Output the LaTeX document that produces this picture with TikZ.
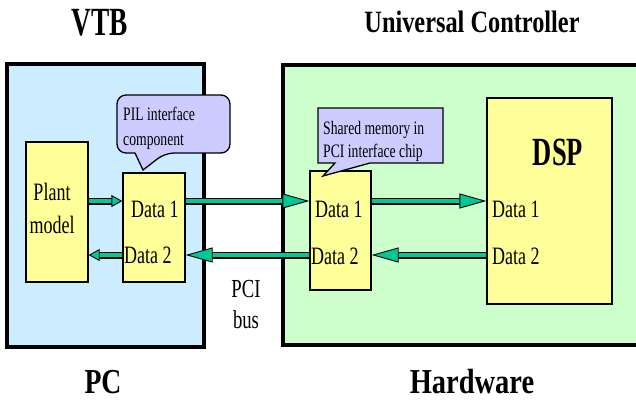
\documentclass[tikz,border=0pt]{standalone}
\usepackage{fontspec}
\usepackage{graphicx}
\setmainfont{Liberation Serif}[FakeStretch=0.72]
\usetikzlibrary{arrows.meta}

\definecolor{pcblue}{HTML}{CCECFF}
\definecolor{hwgreen}{HTML}{CCFFCC}
\definecolor{blockyellow}{HTML}{FFFF99}
\definecolor{notelilac}{HTML}{CCCCFF}
\definecolor{busteal}{HTML}{00C896}

\begin{document}
\begin{tikzpicture}[x=1pt,y=-1pt,
  region/.style={draw=black, line width=4pt, minimum width=#1},
  block/.style={draw=black, fill=blockyellow, line width=1.3pt, inner sep=0pt},
  notebox/.style={draw=black, fill=notelilac, line width=1.3pt},
  txt/.style={font=\fontsize{25}{30}\selectfont, inner sep=0pt, anchor=base},
  txtw/.style={txt, anchor=base west},
  notetxt/.style={font=\fontsize{19}{23}\selectfont, inner sep=0pt, anchor=base west},
  heading/.style={font=\bfseries\fontsize{#1}{#1}\selectfont, inner sep=0pt, anchor=base},
  busarrow/.style n args={2}{line width=3.8pt, draw=busteal,
    -{Triangle[length=#1, width=#2, fill=busteal, color=black, line width=0.9pt]},
    preaction={draw=black, line width=7pt, arrows=-, shorten >=#1-1pt}},
]
\useasboundingbox (0,0) rectangle (636,405);

% enclosing regions
\node[region=197pt, minimum height=283pt, fill=pcblue] (pc) at (105.5,205.5) {};
\node[region=362pt, minimum height=280pt, fill=hwgreen] (hw) at (464,205) {};

% functional blocks
\node[block, minimum width=62pt, minimum height=140pt] (plant) at (57,212) {};
\node[block, minimum width=62pt, minimum height=109pt] (pil) at (154,227.5) {};
\node[block, minimum width=61pt, minimum height=119pt] (shm) at (340.5,230.5) {};
\node[block, minimum width=125pt, minimum height=206pt] (dsp) at (549.5,201) {};

% callouts
\draw[notebox, rounded corners=9pt] (135,153) -- (117,153) -- (117,95) -- (230,95)
  -- (230,153) -- (165,153) [sharp corners] -- (143,170) -- cycle;
\draw[notebox] (335,163) -- (318,163) -- (318,108) -- (443,108) -- (443,163)
  -- (370,163) -- (323,176) -- cycle;
\node[notetxt] (pil1) at (123,120) {PIL interface};
\node[notetxt] (pil2) at (123,145) {component};
\node[notetxt] (shm1) at (323,134) {Shared memory in};
\node[notetxt] (shm2) at (323,157) {PCI interface chip};

% block labels
\node[txt] (plant1) at (52,200) {Plant};
\node[txt] (plant2) at (52,233) {model};
\node[txtw] (pild1) at (131,217) {Data 1};
\node[txtw] (pild2) at (124,263) {Data 2};
\node[txtw] (shmd1) at (315,217) {Data 1};
\node[txtw] (shmd2) at (311,264) {Data 2};
\node[txtw] (dspd1) at (492,217) {Data 1};
\node[txtw] (dspd2) at (492,264) {Data 2};
\node[heading=40] (dspname) at (558,165) {\scalebox{0.92}[1]{DSP}};

% bus label
\node[txt, font=\fontsize{26}{31}\selectfont] (pci1) at (246,297) {PCI};
\node[txt, font=\fontsize{26}{31}\selectfont] (pci2) at (246,328) {bus};

% titles
\node[heading=40] (vtb) at (100,35) {\scalebox{0.95}[1]{VTB}};
\node[heading=31] (uc) at (472,32) {\scalebox{1.09}[1]{Universal Controller}};
\node[heading=35] (pcname) at (103,393) {\scalebox{1.1}[1]{PC}};
\node[heading=35] (hwname) at (472,393) {\scalebox{1.13}[1]{Hardware}};

% data rows
\coordinate (rowA) at (0,201);
\coordinate (rowB) at (0,255);

% data flow arrows
\draw[busarrow={11pt}{12pt}] (plant.east |- rowA) -- (pil.west |- rowA);
\draw[busarrow={11pt}{12pt}] (pil.west |- rowB) -- (plant.east |- rowB);
\draw[busarrow={27pt}{15pt}] (pil.east |- rowA) -- (shm.west |- rowA);
\draw[busarrow={27pt}{15pt}] (shm.west |- rowB) -- (pil.east |- rowB);
\draw[busarrow={27pt}{15pt}] (shm.east |- rowA) -- (dsp.west |- rowA);
\draw[busarrow={27pt}{15pt}] (dsp.west |- rowB) -- (shm.east |- rowB);
\end{tikzpicture}
\end{document}
